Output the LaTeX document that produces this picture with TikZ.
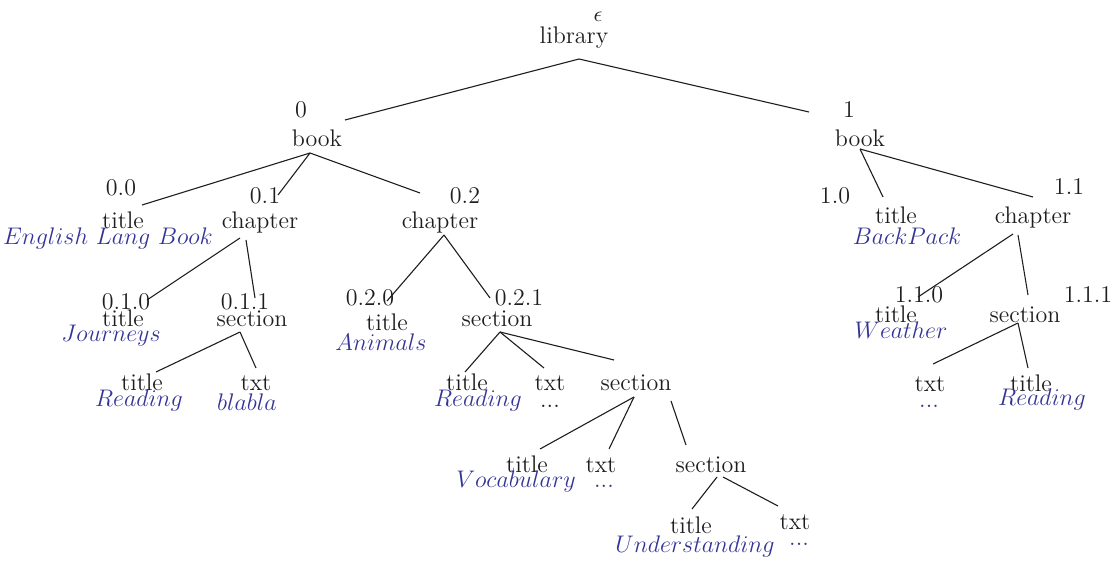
\documentclass[tikz,border=0pt]{standalone}
\usepackage{xcolor}
\definecolor{ink}{RGB}{30,30,30}
\definecolor{valblue}{RGB}{52,52,150}
\begin{document}
\begin{tikzpicture}[x=0.5pt,y=-0.5pt,
  every node/.style={inner sep=0pt,anchor=base,text=ink,font=\fontsize{12}{14}\selectfont},
  val/.style={text=valblue},
  edge/.style={draw=ink,line width=0.55pt}]
\useasboundingbox (0,0) rectangle (1112,561);

% ---- labels: position number, element name, value ----
\begin{scope}[every node/.append style={yshift=-1pt}]
\node (eps) at (598,20) {\fontsize{11}{12}\selectfont$\epsilon$};
\node (lib) at (574,42) {library};

\node (n0) at (301,116) {0};
\node (book0) at (317,145) {book};
\node (n00) at (121,194) {0.0};
\node (t00) at (123,226) {title};
\node[val] (v00) at (108,242) {$English\ Lang\ Book$};
\node (n01) at (265,202) {0.1};
\node (ch01) at (260,226) {chapter};
\node (n02) at (465,202) {0.2};
\node (ch02) at (440,226) {chapter};

\node (n010) at (126,307) {0.1.0};
\node (t010) at (123,324) {title};
\node[val] (v010) at (111,339) {$Journeys$};
\node (n011) at (245,307) {0.1.1};
\node (s011) at (252,324) {section};
\node (t0110) at (142,388) {title};
\node[val] (v0110) at (139,404) {$Reading$};
\node (x0111) at (256,388) {txt};
\node[val] (v0111) at (247,408) {$blabla$};

\node (n020) at (370,303) {0.2.0};
\node (t020) at (387,328) {title};
\node[val] (v020) at (381,348) {$Animals$};
\node (n021) at (519,303) {0.2.1};
\node (s021) at (497,324) {section};
\node (t0210) at (467,388) {title};
\node[val] (v0210) at (478,404) {$Reading$};
\node (x0211) at (550,388) {txt};
\node (v0211) at (550,405) {...};
\node (s0212) at (636,388) {section};
\node (t02120) at (527,470) {title};
\node[val] (v02120) at (516,485) {$Vocabulary$};
\node (x02121) at (601,470) {txt};
\node[val] (v02121) at (604,485) {...};
\node (s02122) at (711,470) {section};
\node (t021220) at (691,531) {title};
\node[val] (v021220) at (695,550) {$Understanding$};
\node (x021221) at (795,527) {txt};
\node[val] (v021221) at (799,543) {...};

\node (n1) at (849,116) {1};
\node (book1) at (860,145) {book};
\node (n10) at (835,202) {1.0};
\node (t10) at (896,222) {title};
\node[val] (v10) at (907,242) {$BackPack$};
\node (n11) at (1069,193) {1.1};
\node (ch11) at (1033,222) {chapter};
\node (n110) at (919,300) {1.1.0};
\node (t110) at (896,320) {title};
\node[val] (v110) at (901,336) {$Weather$};
\node (n111) at (1088,300) {1.1.1};
\node (s111) at (1025,320) {section};
\node (x1110) at (930,389) {txt};
\node[val] (v1110) at (929,405) {...};
\node (t1111) at (1031,389) {title};
\node[val] (v1111) at (1042,403) {$Reading$};
\end{scope}

% ---- connector end points ----
\coordinate (lib-o) at (579,59);
\coordinate (book0-i) at (345,120);
\coordinate (book1-i) at (809,112);

\coordinate (book0-o) at (310,153);
\coordinate (t00-i) at (142,205);
\coordinate (ch01-i) at (278,195);
\coordinate (ch02-i) at (420,193);

\coordinate (ch01-oa) at (240,238);
\coordinate (ch01-ob) at (246,240);
\coordinate (t010-i) at (147,300);
\coordinate (s011-i) at (255,298);

\coordinate (s011-o) at (240,332);
\coordinate (t0110-i) at (156,372);
\coordinate (x0111-i) at (256,368);

\coordinate (ch02-o) at (444,235);
\coordinate (t020-i) at (387,301);
\coordinate (s021-i) at (490,298);

\coordinate (s021-o) at (500,332);
\coordinate (t0210-i) at (465,372);
\coordinate (x0211-i) at (544,368);
\coordinate (s0212-i) at (614,360);

\coordinate (s0212-oa) at (634,397);
\coordinate (s0212-ob) at (671,401);
\coordinate (t02120-i) at (540,449);
\coordinate (x02121-i) at (609,449);
\coordinate (s02122-i) at (686,445);

\coordinate (s02122-oa) at (717,477);
\coordinate (s02122-ob) at (723,477);
\coordinate (t021220-i) at (692,509);
\coordinate (x021221-i) at (778,506);

\coordinate (book1-o) at (860,149);
\coordinate (t10-i) at (883,197);
\coordinate (ch11-i) at (1033,197);

\coordinate (ch11-oa) at (1013,234);
\coordinate (ch11-ob) at (1018,235);
\coordinate (t110-i) at (918,297);
\coordinate (s111-i) at (1028,295);

\coordinate (s111-o) at (1018,323);
\coordinate (x1110-i) at (933,364);
\coordinate (t1111-i) at (1028,368);

% ---- connectors ----
\draw[edge] (book0-i) -- (lib-o) -- (book1-i);
\draw[edge] (book0-o) -- (t00-i);
\draw[edge] (book0-o) -- (ch01-i);
\draw[edge] (book0-o) -- (ch02-i);
\draw[edge] (ch01-oa) -- (t010-i);
\draw[edge] (ch01-ob) -- (s011-i);
\draw[edge] (s011-o) -- (t0110-i);
\draw[edge] (s011-o) -- (x0111-i);
\draw[edge] (ch02-o) -- (t020-i);
\draw[edge] (ch02-o) -- (s021-i);
\draw[edge] (s021-o) -- (t0210-i);
\draw[edge] (s021-o) -- (x0211-i);
\draw[edge] (s021-o) -- (s0212-i);
\draw[edge] (s0212-oa) -- (t02120-i);
\draw[edge] (s0212-oa) -- (x02121-i);
\draw[edge] (s0212-ob) -- (s02122-i);
\draw[edge] (s02122-oa) -- (t021220-i);
\draw[edge] (s02122-ob) -- (x021221-i);
\draw[edge] (book1-o) -- (t10-i);
\draw[edge] (book1-o) -- (ch11-i);
\draw[edge] (ch11-oa) -- (t110-i);
\draw[edge] (ch11-ob) -- (s111-i);
\draw[edge] (s111-o) -- (x1110-i);
\draw[edge] (s111-o) -- (t1111-i);
\end{tikzpicture}
\end{document}
